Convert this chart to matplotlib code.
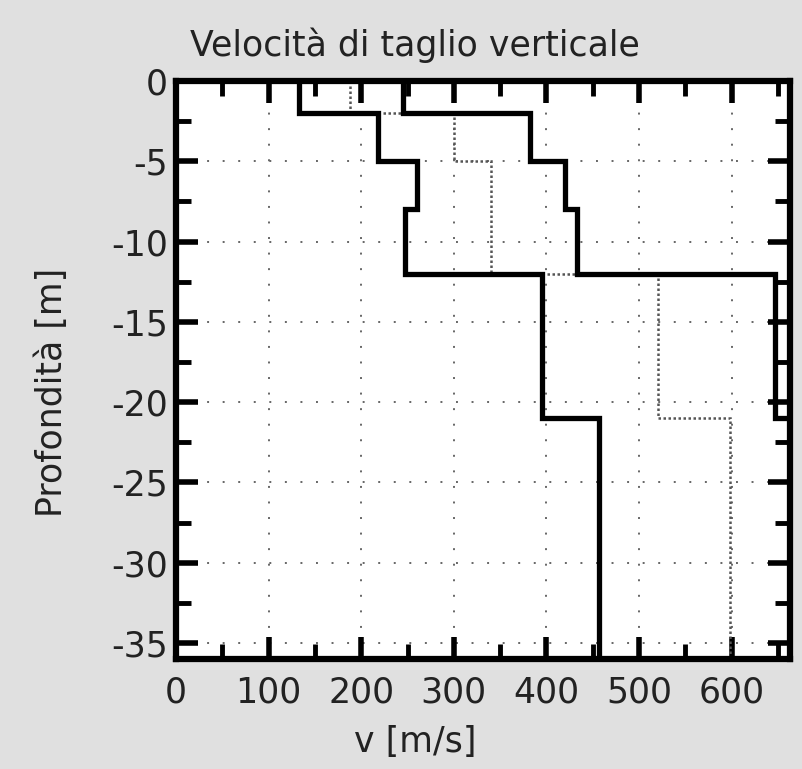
import matplotlib
matplotlib.use("Agg")
import matplotlib.pyplot as plt
from matplotlib.ticker import MultipleLocator

plt.rcParams["font.family"] = ["DejaVu Sans"]
plt.rcParams["axes.unicode_minus"] = False

# layer boundaries (m) and velocity profiles (m/s)
depth_edges = [0, -2, -5, -8, -12, -21, -36]
v_min = [133, 218, 260, 247, 395, 457]
v_max = [245, 382, 420, 433, 647, 740]
v_mean = [188, 300, 340, 340, 521, 598]

x_ticks = [0, 100, 200, 300, 400, 500, 600]
y_ticks = [0, -5, -10, -15, -20, -25, -30, -35]

fig = plt.figure(figsize=(8.03, 7.69), dpi=100, facecolor="#e0e0e0")
ax = fig.add_axes([176 / 803, 1 - 659 / 769, 614 / 803, 578 / 769])
ax.set_facecolor("white")

# dotted grid at the major ticks
for xv in x_ticks[1:]:
    ax.axvline(xv, color="#666666", lw=1.4, ls=(0, (1, 7)), zorder=1)
for yv in y_ticks[1:]:
    ax.axhline(yv, color="#666666", lw=1.4, ls=(0, (1, 7)), zorder=1)

# mean profile: thin dotted; min/max: thick black
ax.stairs(v_mean, depth_edges, orientation="horizontal", baseline=None,
          color="#555555", lw=1.8, ls=(0, (1, 1)), zorder=2)
ax.stairs(v_min, depth_edges, orientation="horizontal", baseline=None,
          color="black", lw=3.8, zorder=3)
ax.stairs(v_max, depth_edges, orientation="horizontal", baseline=None,
          color="black", lw=3.8, zorder=3)

ax.set_xlim(0, 663)
ax.set_ylim(-36, 0)
ax.set_xticks(x_ticks)
ax.set_yticks(y_ticks)
ax.xaxis.set_minor_locator(MultipleLocator(50))
ax.yaxis.set_minor_locator(MultipleLocator(2.5))
ax.tick_params(which="both", direction="in", top=True, right=True,
               color="black", labelsize=25, labelcolor="#222222")
ax.tick_params(which="major", length=16, width=4)
ax.tick_params(which="minor", length=11, width=3.5)
ax.tick_params(axis="x", which="major", pad=12)
ax.tick_params(axis="y", which="major", pad=6)
for sp in ax.spines.values():
    sp.set_linewidth(4.5)

fig.text(415 / 803, 1 - 45 / 769, "Velocità di taglio verticale",
         ha="center", va="center", fontsize=25, color="#222222")
fig.text(415 / 803, 1 - 742 / 769, "v [m/s]",
         ha="center", va="center", fontsize=25, color="#222222")
fig.text(52 / 803, 1 - 392 / 769, "Profondità [m]", rotation=90,
         ha="center", va="center", fontsize=25, color="#222222")

fig.savefig("out.png", dpi=100, facecolor=fig.get_facecolor())
